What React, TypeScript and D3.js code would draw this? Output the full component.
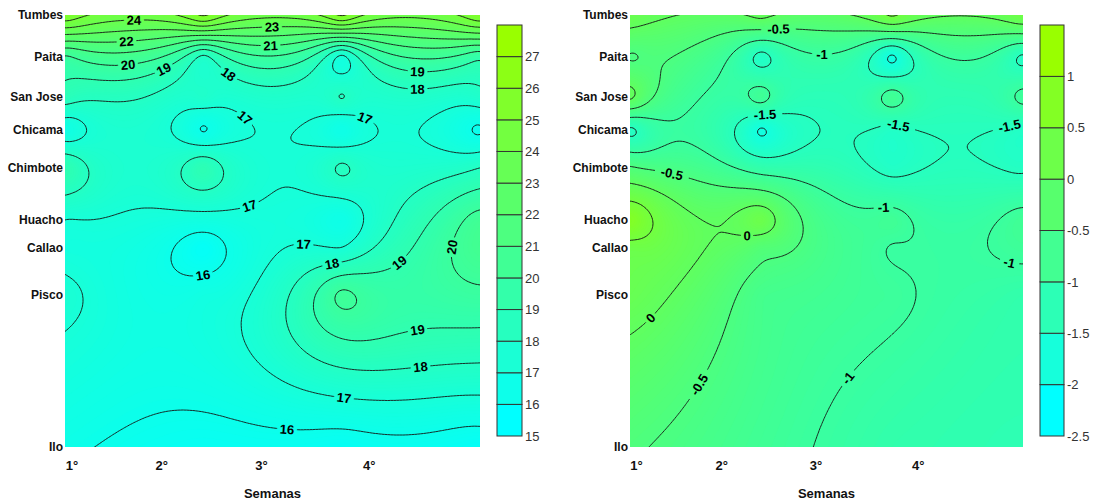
import React, { useMemo } from "react";
import * as d3 from "d3";

// estaciones (de norte a sur) y su posición sobre el eje vertical
const stations = ["Tumbes", "Paita", "San Jose", "Chicama", "Chimbote", "Huacho", "Callao", "Pisco", "Ilo"];
const stationPos = [3.5, 4.87, 6.18, 7.25, 8.49, 10.19, 11.1, 12.64, 17.6];

const weeks = [1, 2, 3, 4];
const weekLabels = ["1°", "2°", "3°", "4°"];
const weekLabelPos = [1.05, 1.7, 2.42, 3.2];

// TSM (°C): filas = estaciones, columnas = semanas
const temperature = [
  [25.7, 26.1, 26.1, 25.8],
  [19.9, 17.8, 16.8, 19.3],
  [18.5, 17.6, 18.03, 17.6],
  [16.4, 15.95, 16.2, 15.9],
  [18.9, 18.75, 18.15, 18.0],
  [17.0, 16.6, 16.2, 20.4],
  [16.7, 15.4, 17.03, 20.6],
  [17.25, 16.5, 20.2, 19.8],
  [16.15, 15.6, 15.5, 15.4],
];

// anomalía de TSM (°C)
const anomaly = [
  [0.26, 0.12, 0.55, 0.4],
  [-0.52, -1.62, -2.05, -1.55],
  [0.06, -0.86, -0.83, -0.9],
  [-1.55, -2.03, -1.62, -1.6],
  [-0.45, -1.2, -1.62, -1.56],
  [0.9, 0.3, -0.85, -0.85],
  [0.35, -0.35, -1.02, -0.9],
  [0.2, -0.7, -0.93, -1.2],
  [-0.45, -0.85, -1.2, -1.3],
];

const tempLevels = [15, 16, 17, 18, 19, 20, 21, 22, 23, 24, 25, 26, 27];
const anomLevels = [-2.5, -2, -1.5, -1, -0.5, 0, 0.5, 1];

// etiquetas de isolíneas: [nivel, semana, posición]
const tempLabels = [
  [24, 1.5, 3.83], [23, 2.5, 4.05], [22, 1.45, 4.45], [21, 2.49, 4.64],
  [20, 1.46, 5.1], [19, 1.71, 5.26], [18, 2.17, 5.52], [19, 3.55, 5.26],
  [18, 3.55, 5.78], [17, 2.27, 6.99], [17, 3.17, 6.9], [17, 2.32, 9.54],
  [17, 2.72, 11.33], [16, 2.0, 12.08], [18, 2.94, 11.82], [19, 3.44, 11.72],
  [20, 3.8, 11.07], [19, 3.54, 13.62], [18, 3.57, 14.92], [17, 3.02, 15.97],
  [16, 2.61, 17.04],
];
const anomLabels = [
  [-0.5, 2.13, 4.09], [-1, 2.47, 5.03], [-1.5, 2.03, 6.99], [-1.5, 3.04, 7.32],
  [-1.5, 3.89, 6.99], [-0.5, 1.33, 8.56], [-1, 2.93, 9.7], [0, 1.89, 10.74],
  [-1, 3.9, 11.5], [0, 1.19, 13.52], [-1, 2.6, 15.15], [-0.5, 1.53, 15.58],
];

const FONT = "'Liberation Sans', Arial, sans-serif";
const TOP = 15;
const HEIGHT = 432;
const SMOOTH = 6; // parámetro del núcleo multicuádrico (px)

// interpolación RBF multicuádrica con término constante
function makeInterpolator(px: number[], py: number[], f: number[]) {
  const n = f.length;
  const N = n + 1;
  const phi = (dx: number, dy: number) => Math.sqrt(dx * dx + dy * dy + SMOOTH * SMOOTH);
  const A: number[][] = [];
  for (let i = 0; i < N; i++) {
    const row = new Array(N + 1).fill(0);
    for (let j = 0; j < N; j++) {
      if (i < n && j < n) row[j] = phi(px[i] - px[j], py[i] - py[j]);
      else if (i < n || j < n) row[j] = 1;
    }
    row[N] = i < n ? f[i] : 0;
    A.push(row);
  }
  for (let c = 0; c < N; c++) {
    let p = c;
    for (let r = c + 1; r < N; r++) if (Math.abs(A[r][c]) > Math.abs(A[p][c])) p = r;
    [A[c], A[p]] = [A[p], A[c]];
    for (let r = 0; r < N; r++) {
      if (r === c) continue;
      const k = A[r][c] / A[c][c];
      for (let j = c; j <= N; j++) A[r][j] -= k * A[c][j];
    }
  }
  const w = A.map((row, i) => row[N] / row[i]);
  return (x: number, y: number) => {
    let s = w[n];
    for (let i = 0; i < n; i++) s += w[i] * phi(x - px[i], y - py[i]);
    return s;
  };
}

function sampleGrid(fn: (x: number, y: number) => number, w: number, h: number, step: number, pad: number) {
  const nx = Math.ceil(w / step) + 1 + 2 * pad;
  const ny = Math.ceil(h / step) + 1 + 2 * pad;
  const vals = new Array(nx * ny);
  for (let j = 0; j < ny; j++)
    for (let i = 0; i < nx; i++) vals[j * nx + i] = fn((i - pad) * step, (j - pad) * step);
  return { nx, ny, vals, step, pad };
}

function ringsToPx(mp: any, step: number, pad: number) {
  return mp.coordinates.map((poly: number[][][]) =>
    poly.map((ring) => ring.map((p) => [(p[0] - 0.5 - pad) * step, (p[1] - 0.5 - pad) * step]))
  );
}

function toPath(polys: number[][][][]) {
  return polys
    .map((poly) => poly.map((ring) => "M" + ring.map((p) => p[0].toFixed(1) + "," + p[1].toFixed(1)).join("L") + "Z").join(""))
    .join("");
}

function Panel(props: {
  id: string;
  left: number;
  width: number;
  data: number[][];
  levels: number[];
  levelStep: number;
  fillStep: number;
  labels: number[][];
  barX: number;
  barW: number;
  fmt: (v: number) => string;
}) {
  const { id, left, width, data, levels, levelStep, fillStep, labels, barX, barW, fmt } = props;
  const cMin = levels[0];
  const cMax = levels[levels.length - 1];
  const barColor = d3.scaleLinear<string>().domain([cMin, cMax]).range(["#00ffff", "#99ff00"]).clamp(true);
  const color = d3.scaleLinear<string>().domain([cMin, cMax + levelStep]).range(["#00ffff", "#99ff00"]).clamp(true);

  const model = useMemo(() => {
    const x = d3.scaleLinear().domain([1, 4]).range([0, width]);
    const y = d3.scaleLinear().domain([stationPos[0], stationPos[stationPos.length - 1]]).range([0, HEIGHT]);
    const px: number[] = [];
    const py: number[] = [];
    const f: number[] = [];
    data.forEach((row, r) => row.forEach((v, c) => {
      px.push(x(weeks[c]));
      py.push(y(stationPos[r]));
      f.push(v);
    }));
    const fn = makeInterpolator(px, py, f);

    const coarse = sampleGrid(fn, width, HEIGHT, 3, 2);
    const lo = d3.min(coarse.vals) as number;
    const hi = d3.max(coarse.vals) as number;
    const fillTh = d3.range(Math.floor(lo / fillStep) * fillStep, hi + fillStep, fillStep);
    const fills = d3.contours().size([coarse.nx, coarse.ny]).thresholds(fillTh)(coarse.vals)
      .map((c) => ({ v: c.value, d: toPath(ringsToPx(c, coarse.step, coarse.pad)) }));

    const fine = sampleGrid(fn, width, HEIGHT, 1.5, 3);
    const lineGen = d3.contours().size([fine.nx, fine.ny]).thresholds(levels);
    const lines = lineGen(fine.vals).map((c) => {
      const polys = ringsToPx(c, fine.step, fine.pad);
      return { v: c.value, polys, d: toPath(polys) };
    });

    const labs: { v: number; x: number; y: number; a: number }[] = [];
    labels.forEach(([lv, wk, pos]) => {
      const ax = x(wk);
      const ay = y(pos);
      const ln = lines.find((l) => Math.abs(l.v - lv) < 1e-9);
      if (!ln) return;
      let best = Infinity;
      let bx = 0, by = 0, ang = 0;
      ln.polys.forEach((poly: number[][][]) => poly.forEach((ring) => {
        const m = ring.length;
        for (let i = 0; i < m; i++) {
          const p = ring[i];
          if (p[0] < 2 || p[0] > width - 2 || p[1] < 2 || p[1] > HEIGHT - 2) continue;
          const dd = Math.hypot(p[0] - ax, p[1] - ay);
          if (dd < best) {
            best = dd;
            bx = p[0];
            by = p[1];
            const a = ring[(i - 4 + m) % m];
            const b = ring[(i + 4) % m];
            ang = (Math.atan2(b[1] - a[1], b[0] - a[0]) * 180) / Math.PI;
          }
        }
      }));
      if (best > 45) return;
      if (ang > 90) ang -= 180;
      if (ang < -90) ang += 180;
      labs.push({ v: lv, x: bx, y: by, a: ang });
    });

    return { fills, lines, labs, base: color(lo) };
  }, [width, data]);

  const yAxis = d3.scaleLinear().domain([stationPos[0], stationPos[stationPos.length - 1]]).range([TOP, TOP + HEIGHT]);
  const xAxis = d3.scaleLinear().domain([1, 4]).range([left, left + width]);
  const barTop = 25;
  const barBottom = 436;
  const bar = d3.scaleLinear().domain([cMin, cMax + levelStep]).range([barBottom, barTop]);

  const labW = (v: number) => fmt(v).length * 7.4 + 5;

  return (
    <g>
      <defs>
        <clipPath id={`clip-${id}`}>
          <rect x={0} y={0} width={width} height={HEIGHT} />
        </clipPath>
        <mask id={`mask-${id}`} maskUnits="userSpaceOnUse" x={-20} y={-20} width={width + 40} height={HEIGHT + 40}>
          <rect x={-20} y={-20} width={width + 40} height={HEIGHT + 40} fill="white" />
          {model.labs.map((l, i) => (
            <rect key={i} x={-labW(l.v) / 2} y={-7} width={labW(l.v)} height={14} fill="black"
              transform={`translate(${l.x},${l.y}) rotate(${l.a})`} />
          ))}
        </mask>
      </defs>
      <g transform={`translate(${left},${TOP})`}>
        <g clipPath={`url(#clip-${id})`}>
          <rect x={0} y={0} width={width} height={HEIGHT} fill={model.base} />
          {model.fills.map((f, i) => (
            <path key={i} d={f.d} fill={color(f.v + fillStep / 2)} stroke={color(f.v + fillStep / 2)} strokeWidth={0.4} />
          ))}
          <g mask={`url(#mask-${id})`}>
            {model.lines.map((l, i) => (
              <path key={i} d={l.d} fill="none" stroke="#151515" strokeWidth={0.9} />
            ))}
          </g>
        </g>
        {model.labs.map((l, i) => (
          <text key={i} transform={`translate(${l.x},${l.y}) rotate(${l.a})`} textAnchor="middle" dy="0.36em"
            fontFamily={FONT} fontWeight="bold" fontSize={13} fill="#000">
            {fmt(l.v)}
          </text>
        ))}
      </g>

      {stations.map((s, i) => (
        <text key={s} x={left - 2} y={yAxis(stationPos[i])} dy="0.35em" textAnchor="end"
          fontFamily={FONT} fontWeight="bold" fontSize={12} fill="#111">
          {s}
        </text>
      ))}
      {weekLabels.map((w, i) => (
        <text key={w} x={xAxis(weekLabelPos[i])} y={470} textAnchor="middle"
          fontFamily={FONT} fontWeight="bold" fontSize={13} fill="#111">
          {w}
        </text>
      ))}
      <text x={left + width / 2} y={498} textAnchor="middle" fontFamily={FONT} fontWeight="bold" fontSize={13} fill="#111">
        Semanas
      </text>

      {levels.map((lv) => (
        <rect key={lv} x={barX} y={bar(lv + levelStep)} width={barW} height={bar(lv) - bar(lv + levelStep)}
          fill={barColor(lv)} stroke="#333" strokeWidth={1} />
      ))}
      {levels.map((lv) => (
        <text key={lv} x={barX + barW + 3} y={bar(lv)} dy="0.36em" fontFamily={FONT} fontSize={13} fill="#333">
          {fmt(lv)}
        </text>
      ))}
    </g>
  );
}

export default function App() {
  return (
    <svg width={1098} height={501} style={{ position: "absolute", left: 0, top: 0, background: "#fff" }}>
      <rect x={0} y={0} width={1098} height={501} fill="#fff" />
      <Panel id="tsm" left={65} width={415} data={temperature} levels={tempLevels} levelStep={1} fillStep={0.1}
        labels={tempLabels} barX={497} barW={25} fmt={(v) => String(v)} />
      <Panel id="ano" left={630} width={393} data={anomaly} levels={anomLevels} levelStep={0.5} fillStep={0.04}
        labels={anomLabels} barX={1040} barW={24} fmt={(v) => String(v)} />
    </svg>
  );
}
